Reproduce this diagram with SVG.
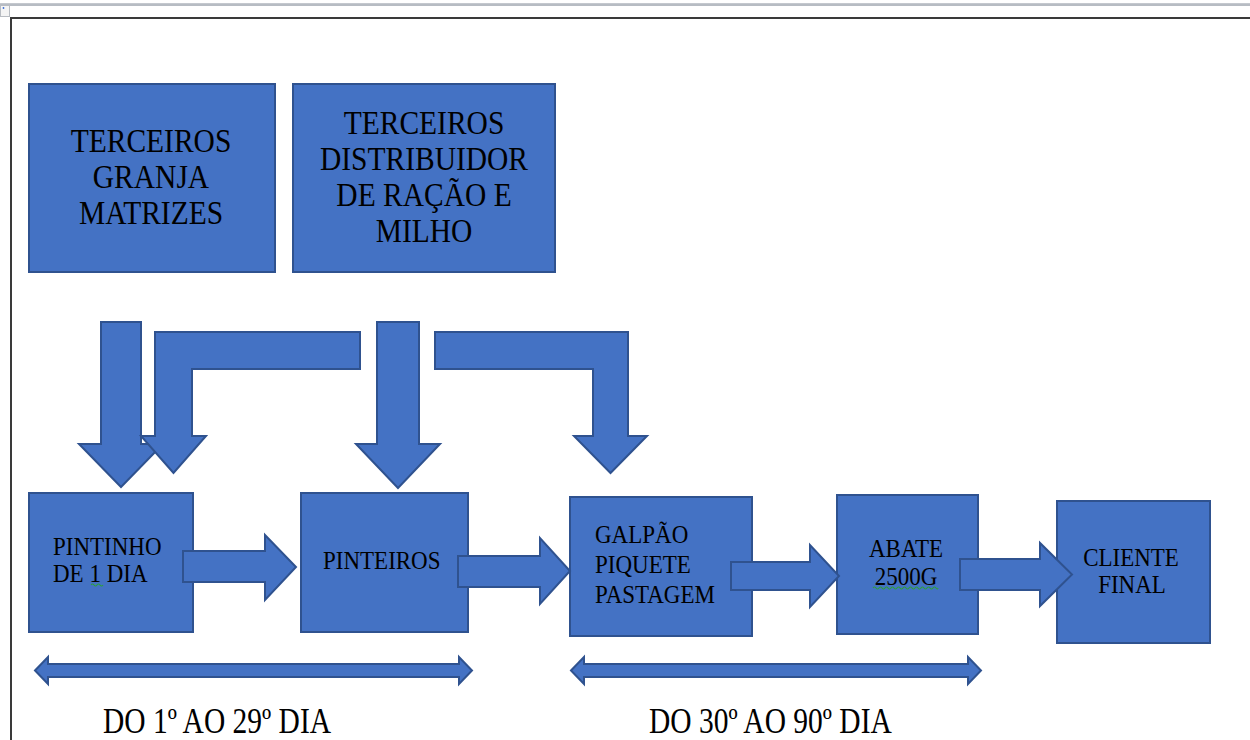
<svg xmlns="http://www.w3.org/2000/svg" width="1250" height="740" viewBox="0 0 1250 740">
<style>
.box{fill:#4472C4;stroke:#2F528F;stroke-width:2}
.arr{fill:#4472C4;stroke:#2F528F;stroke-width:2;stroke-linejoin:miter}
.t{font-family:"Liberation Serif","DejaVu Serif",serif;fill:#000}
.big{font-size:29.5px}
.sm{font-size:23px}
.lab{font-size:29.5px}
.mid{text-anchor:middle}
.sq{fill:none;stroke:#2E9E3E;stroke-width:1.2}
</style>
<rect x="0" y="0" width="1250" height="740" fill="#fff"/>
<rect x="0" y="3" width="1250" height="3" fill="#c4c8ce"/>
<rect x="0" y="4.5" width="1250" height="1" fill="#aab0b8"/>
<rect x="0.5" y="5.5" width="9" height="11" fill="#f4f4f4" stroke="#b8bcc2" stroke-width="1"/>
<circle cx="3.5" cy="8" r="0.9" fill="#3a6fd8"/>
<path d="M11 740 V18 H1250" fill="none" stroke="#3a3a3a" stroke-width="2"/>

<g id="granja">
<rect class="box" x="29" y="84" width="246" height="188"/>
<text class="t big mid" transform="matrix(1 0 0 1.12 151 152)">TERCEIROS</text>
<text class="t big mid" transform="matrix(1 0 0 1.12 151 188)">GRANJA</text>
<text class="t big mid" transform="matrix(1 0 0 1.12 151 224)">MATRIZES</text>
</g>
<g id="distribuidor">
<rect class="box" x="293" y="84" width="262" height="188"/>
<text class="t big mid" transform="matrix(1 0 0 1.12 424 134)">TERCEIROS</text>
<text class="t big mid" transform="matrix(1 0 0 1.12 424 170)">DISTRIBUIDOR</text>
<text class="t big mid" transform="matrix(1 0 0 1.12 424 206)">DE RAÇÃO E</text>
<text class="t big mid" transform="matrix(1 0 0 1.12 424 242)">MILHO</text>
</g>
<g id="pintinho">
<rect class="box" x="29" y="493" width="164" height="139"/>
<text class="t sm" transform="matrix(1 0 0 1.12 53 555)">PINTINHO</text>
<text class="t sm" transform="matrix(1 0 0 1.12 53 582)">DE 1 DIA</text>
<path class="sq" d="M91 585 q1.5 -2 3 0 t3 0 t3 0 t3 0"/>
</g>
<g id="pinteiros">
<rect class="box" x="301" y="493" width="167" height="139"/>
<text class="t sm" transform="matrix(1 0 0 1.12 323 569)">PINTEIROS</text>
</g>
<g id="galpao">
<rect class="box" x="570" y="497" width="182" height="139"/>
<text class="t sm" transform="matrix(1 0 0 1.12 595 543)">GALPÃO</text>
<text class="t sm" transform="matrix(1 0 0 1.12 595 573)">PIQUETE</text>
<text class="t sm" transform="matrix(1 0 0 1.12 595 603)">PASTAGEM</text>
</g>
<g id="abate">
<rect class="box" x="837" y="495" width="141" height="139"/>
<text class="t sm mid" transform="matrix(1 0 0 1.12 906 557)">ABATE</text>
<text class="t sm mid" transform="matrix(1 0 0 1.12 906 585)">2500G</text>
<path class="sq" d="M873 588 q1.5 -2 3 0 t3 0 t3 0 t3 0 t3 0 t3 0 t3 0 t3 0 t3 0 t3 0 t3 0 t3 0 t3 0 t3 0 t3 0 t3 0 t3 0 t3 0 t3 0 t3 0 t3 0 t2 0"/>
</g>
<g id="cliente">
<rect class="box" x="1057" y="501" width="153" height="142"/>
<text class="t sm mid" transform="matrix(1 0 0 1.12 1131 566)">CLIENTE</text>
<text class="t sm mid" transform="matrix(1 0 0 1.12 1132 593)">FINAL</text>
</g>

<g id="connectors">
<polygon class="arr" points="101,322 141,322 141,444 163,444 121,487 79,444 101,444"/>
<polygon class="arr" points="360,332 155,332 155,436 141,436 173.5,473 206,436 192,436 192,369 360,369"/>
<polygon class="arr" points="377,322 419,322 419,444 440,444 398,488 356,444 377,444"/>
<polygon class="arr" points="435,332 628,332 628,436 647,436 610.5,473 574,436 593,436 593,369 435,369"/>
<polygon class="arr" points="183,551 265,551 265,535 296,567 265,600 265,582 183,582"/>
<polygon class="arr" points="458,556 540,556 540,538 570,571 540,604 540,587 458,587"/>
<polygon class="arr" points="731,562 810,562 810,545 839,576 810,607 810,590 731,590"/>
<polygon class="arr" points="960,559 1040,559 1040,543 1072,574.5 1040,606 1040,590 960,590"/>
<polygon class="arr" points="35,670.5 48,657 48,664 459,664 459,657 472,670.5 459,684 459,677 48,677 48,684"/>
<polygon class="arr" points="571,670.5 584,657 584,664 968,664 968,657 981,670.5 968,684 968,677 584,677 584,684"/>
</g>

<g id="labels">
<text class="t lab" transform="matrix(1 0 0 1.2 103 733)">DO 1º AO 29º DIA</text>
<text class="t lab" transform="matrix(1 0 0 1.2 649 733)">DO 30º AO 90º DIA</text>
</g>
</svg>
